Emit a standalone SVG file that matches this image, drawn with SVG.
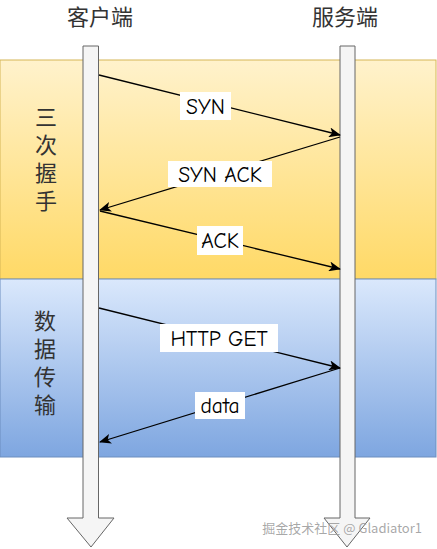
<svg xmlns="http://www.w3.org/2000/svg" width="437" height="549" viewBox="0 0 437 549">
<style>
.lbl{font-family:"Comic Sans MS","Comic Neue","DejaVu Sans","Liberation Sans",sans-serif;font-size:21.5px;fill:#000;text-anchor:middle}
.cjk{font-family:"Noto Sans CJK SC","Noto Sans",sans-serif;font-size:22px;fill:#333;text-anchor:middle}
.side{font-family:"Noto Sans CJK SC","Noto Sans",sans-serif;font-size:22px;fill:#333;writing-mode:vertical-rl;letter-spacing:6px}
.bg{fill:#fff}
.msg{stroke:#000;stroke-width:1.3;fill:none;marker-end:url(#ah)}
.life{fill:#f5f5f5;stroke:#666;stroke-width:1}
</style>
<defs>
<linearGradient id="gy" x1="0" y1="0" x2="0" y2="1"><stop offset="0" stop-color="#fff2cc"/><stop offset="1" stop-color="#ffd966"/></linearGradient>
<linearGradient id="gb" x1="0" y1="0" x2="0" y2="1"><stop offset="0" stop-color="#dae8fc"/><stop offset="1" stop-color="#7ea6e0"/></linearGradient>
<marker id="ah" viewBox="0 0 12 10" refX="11" refY="5" markerWidth="12" markerHeight="10" markerUnits="userSpaceOnUse" orient="auto">
<path d="M0,0 L12,5 L0,10 L3,5 Z" fill="#000"/>
</marker>
</defs>
<g id="band-handshake"><rect x="0" y="60" width="436" height="219" fill="url(#gy)" stroke="#d6b656" stroke-width="1"/>
<text class="side" x="46" y="106">三次握手</text></g>
<g id="band-data"><rect x="0" y="279" width="436" height="178" fill="url(#gb)" stroke="#6c8ebf" stroke-width="1"/>
<text class="side" x="45" y="310">数据传输</text></g>
<g id="client"><text class="cjk" x="100" y="25">客户端</text>
<path class="life" d="M83,46 H98.5 V518 H114 L91,547 L67,518 H83 Z"/></g>
<g id="server"><text class="cjk" x="345" y="25">服务端</text>
<path class="life" d="M340,46 H355 V518 H370 L347,547 L324,518 H340 Z"/></g>
<g id="connectors">
<line class="msg" x1="99" y1="75" x2="340" y2="135"/>
<line class="msg" x1="340" y1="137" x2="100" y2="210"/>
<line class="msg" x1="100" y1="211" x2="340" y2="269"/>
<line class="msg" x1="99" y1="308" x2="340" y2="368"/>
<line class="msg" x1="340" y1="368" x2="100" y2="442"/>
<rect class="bg" x="180" y="92" width="51" height="28"/><text class="lbl" x="205.5" y="114">SYN</text>
<rect class="bg" x="168" y="161" width="104" height="26"/><text class="lbl" x="220" y="182">SYN ACK</text>
<rect class="bg" x="197" y="226" width="46" height="29"/><text class="lbl" x="220" y="248">ACK</text>
<rect class="bg" x="160" y="324" width="118" height="28"/><text class="lbl" x="219" y="346">HTTP GET</text>
<rect class="bg" x="195" y="392" width="50" height="27"/><text class="lbl" x="220" y="413">data</text>
</g>
<text x="422" y="533" font-family="Noto Sans CJK SC,Noto Sans,sans-serif" font-size="13" fill="#999" fill-opacity="0.85" text-anchor="end">掘金技术社区 @ Gladiator1</text>
</svg>
